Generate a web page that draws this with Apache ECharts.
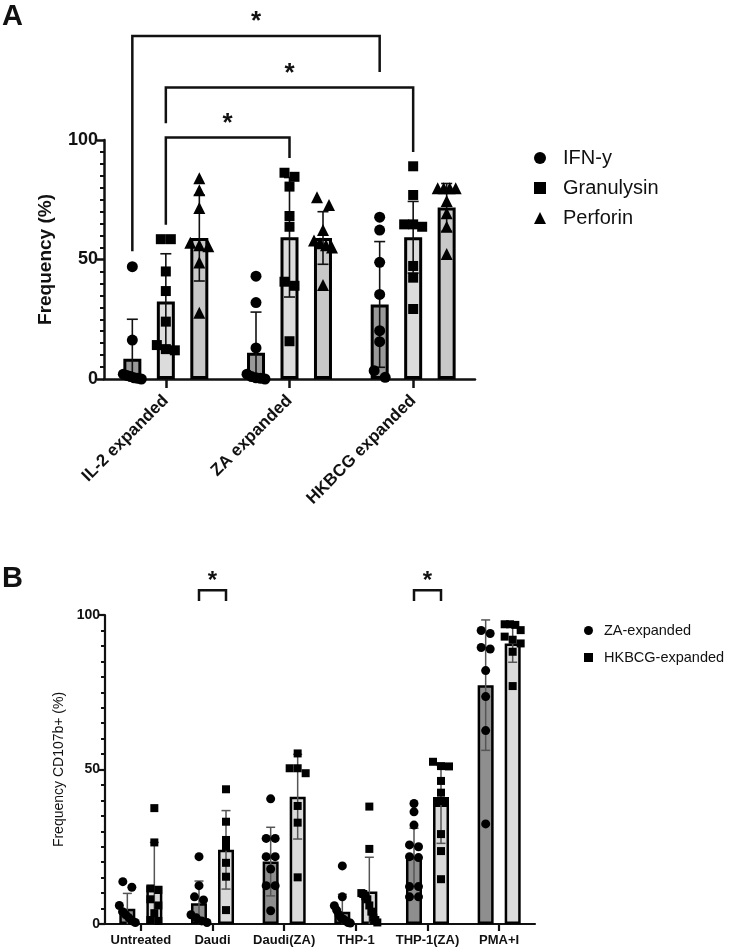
<!DOCTYPE html>
<html><head><meta charset="utf-8">
<script src="https://cdn.jsdelivr.net/npm/echarts@6/dist/echarts.min.js"></script>
<style>html,body{margin:0;padding:0;background:#fff}#c{width:731px;height:952px}</style>
</head><body><div id="c"></div>
<script>
// ---------- Panel A data ----------
const groupsA = ['IL-2 expanded', 'ZA expanded', 'HKBCG expanded'];
const markersA = ['IFN-y', 'Granulysin', 'Perforin'];
const meanIFN  = [8.5, 11, 31.2];
const meanGran = [32.4, 59.3, 59.3];
const meanPerf = [59, 59, 71.8];
const sdIFN  = [16.5, 17, 26.3];
const sdGran = [20, 25, 15];
const sdPerf = [18, 11, 10];
const ptsIFN = [
  [47, 16.3, 2, 1.5, 1, 0.5, 0.3, 0],
  [43, 32, 13, 2, 1, 0.5, 0.3, 0],
  [67.7, 62.3, 48.8, 35.4, 20.2, 15.6, 3.5, 0.7]
];
const ptsGran = [
  [58.5, 58.5, 45, 36.8, 24, 14.2, 12, 12.5],
  [86.3, 84.6, 80.5, 68.2, 63.7, 40.7, 39, 15.8],
  [89, 77, 64.7, 64.7, 63.7, 47.3, 42.4, 29.3]
];
const ptsPerf = [
  [84, 79, 71.5, 57, 56, 55.5, 48.7, 27.7],
  [76, 72.8, 62.3, 58, 56.8, 56, 55, 39.3],
  [79.8, 79.8, 79.8, 79.8, 74.5, 69.3, 63.7, 52.3]
];
const ticksA = [0, 50, 100];
// comparisons: [groupFrom, markerFrom, groupTo, markerTo, bracketTop, leftEnd, rightEnd, label]
const sigA = [
  [0, 0, 2, 0, 143.5, 53.5, 128.5, '*'],
  [0, 1, 2, 1, 122, 107, 95, '*'],
  [0, 1, 1, 1, 101, 64.5, 92.5, '*']
];

// ---------- Panel B data ----------
const groupsB = ['Untreated', 'Daudi', 'Daudi(ZA)', 'THP-1', 'THP-1(ZA)', 'PMA+I'];
const seriesB = ['ZA-expanded', 'HKBCG-expanded'];
const meanZA = [4.9, 6.7, 20.2, 4, 21.6, 77.3];
const meanHK = [12.4, 24, 41.2, 10.5, 38.7, 90.8];
const sdZA = [5, 7.2, 11.1, 5.6, 9.4, 21.1];
const sdHK = [14, 12.7, 13.7, 11.1, 12.6, 6.1];
const ptsZA = [
  [13.7, 11.9, 6, 4, 3, 2, 1, 0.5],
  [21.8, 12.4, 8.8, 7.8, 3, 2, 1, 0.5],
  [40.5, 27.7, 27.7, 21.8, 21.8, 17.8, 12.4, 12.4, 4.3],
  [18.8, 8.8, 5.9, 4.5, 3, 2, 1.5, 1, 0.5, 0.3],
  [39, 36.3, 32, 25.6, 25, 21.8, 21.5, 12.1, 12.1, 8.8, 8.8],
  [95, 94, 89.5, 89, 82, 73.6, 62.6, 32.4]
];
const ptsHK = [
  [37.5, 26.4, 11.5, 11, 8, 6, 3.5, 1.3, 1],
  [43.6, 33.1, 27.2, 25, 19.8, 15.3, 4.5],
  [55.2, 50.4, 50.4, 48.8, 38.2, 32.8, 15.1],
  [38, 24.3, 10, 9.7, 9, 8, 6, 4, 2, 1.3, 0.5],
  [52.5, 51.1, 51, 46.3, 42.5, 39.8, 39.8, 29.1, 23.6, 14.5],
  [97, 97, 96.8, 95.1, 93, 92, 90.8, 88.1, 77]
];
const ticksB = [0, 50, 100];
// [group, fromSeries, toSeries, bracketTop, ends, label]
const sigB = [
  [1, 0, 1, 108, 104.5, '*'],
  [4, 0, 1, 108, 104.5, '*']
];

// ---------- layout / style ----------
const FONT = 'Liberation Sans, Arial, sans-serif';
const gA = {left: 104, top: 140, width: 371, height: 239};
const gB = {left: 105, top: 615, width: 430, height: 309};
const bandA = gA.width / groupsA.length, bandB = gB.width / groupsB.length;
const pxA = gA.height / 100, pxB = gB.height / 100;
const offA = [-33.5 / bandA, 0, 33.5 / bandA];
const offB = [-13.5 / bandB, 13.5 / bandB];
const colA = ['#999999', '#dcdcdc', '#c8c8c8'];
const colB = ['#8e8e8e', '#dadada'];
const symA = [['circle', 11], ['rect', 10], ['triangle', 12]];
const symB = [['circle', 9], ['rect', 8]];

function spread(vals, pxPerUnit, symPx, maxHalf, band) {
  const idx = vals.map((v, i) => i).sort((a, b) => vals[b] - vals[a]);
  const off = new Array(vals.length).fill(0);
  let i = 0;
  while (i < idx.length) {
    let j = i + 1;
    while (j < idx.length && (vals[idx[j - 1]] - vals[idx[j]]) * pxPerUnit < symPx * 0.8) j++;
    const n = j - i;
    if (n > 1) {
      const step = Math.min(symPx, 2 * maxHalf / (n - 1));
      for (let k = 0; k < n; k++) off[idx[i + k]] = (k - (n - 1) / 2) * step / band;
    }
    i = j;
  }
  return off;
}
function scatterData(pts, off, pxu, sym, maxHalf, band) {
  const out = [];
  pts.forEach((vals, g) => {
    const o = spread(vals, pxu, sym, maxHalf, band);
    vals.forEach((v, k) => out.push([g + off + o[k], v]));
  });
  return out;
}
function errSeries(xi, yi, means, sds, off, color, cap, lw) {
  return {
    type: 'custom', xAxisIndex: xi, yAxisIndex: yi, z: 3, silent: true, clip: false,
    encode: {x: 0, y: 1},
    data: means.map((m, g) => [g + off, m, sds[g]]),
    renderItem(p, api) {
      const x = api.value(0), m = api.value(1), s = api.value(2);
      const t = api.coord([x, m + s]), b = api.coord([x, Math.max(0, m - s)]);
      const st = {stroke: color, lineWidth: lw};
      const ch = [
        {type: 'line', shape: {x1: t[0], y1: t[1], x2: b[0], y2: b[1]}, style: st},
        {type: 'line', shape: {x1: t[0] - cap / 2, y1: t[1], x2: t[0] + cap / 2, y2: t[1]}, style: st}
      ];
      if (m - s > 0) ch.push({type: 'line', shape: {x1: b[0] - cap / 2, y1: b[1], x2: b[0] + cap / 2, y2: b[1]}, style: st});
      return {type: 'group', children: ch};
    }
  };
}
function bracketSeries(xi, yi, data, lw, fs, starGap) {
  return {
    type: 'custom', xAxisIndex: xi, yAxisIndex: yi, z: 5, silent: true, clip: false,
    encode: {x: [0, 1], y: 2},
    data: data,
    renderItem(p, api) {
      const xl = api.value(0), xr = api.value(1), yt = api.value(2), yle = api.value(3), yre = api.value(4);
      const a = api.coord([xl, yle]), b = api.coord([xl, yt]), c = api.coord([xr, yt]), d = api.coord([xr, yre]);
      return {type: 'group', children: [
        {type: 'polyline', shape: {points: [a, b, c, d]}, style: {stroke: '#111', lineWidth: lw, fill: null}},
        {type: 'text', x: (b[0] + c[0]) / 2, y: b[1] - starGap,
         style: {text: data[p.dataIndex][5], font: 'bold ' + fs + 'px ' + FONT, fill: '#111', align: 'center', verticalAlign: 'middle'}}
      ]};
    }
  };
}

const meansA = [meanIFN, meanGran, meanPerf], sdsA = [sdIFN, sdGran, sdPerf], ptsA = [ptsIFN, ptsGran, ptsPerf];
const meansB = [meanZA, meanHK], sdsB = [sdZA, sdHK], ptsB = [ptsZA, ptsHK];

const series = [];
markersA.forEach((name, s) => {
  series.push({type: 'bar', name: name + ' bar', xAxisIndex: 0, yAxisIndex: 0, data: meansA[s],
    barWidth: 18, barGap: '86%', z: 2, silent: true,
    itemStyle: {color: colA[s], borderColor: '#000', borderWidth: 3}});
});
markersA.forEach((name, s) => {
  series.push(errSeries(1, 0, meansA[s], sdsA[s], offA[s], '#111', 11, 1.6));
  series.push({type: 'scatter', name: name, xAxisIndex: 1, yAxisIndex: 0, z: 4, clip: false, silent: true,
    symbol: symA[s][0], symbolSize: symA[s][1], itemStyle: {color: '#000', opacity: 1},
    data: scatterData(ptsA[s], offA[s], pxA, symA[s][1], 9, bandA)});
});
series.push(bracketSeries(1, 0, sigA.map(r => [r[0] + offA[r[1]], r[2] + offA[r[3]], r[4], r[5], r[6], r[7]]), 2.5, 26, 14));

seriesB.forEach((name, s) => {
  series.push({type: 'bar', name: name + ' bar', xAxisIndex: 2, yAxisIndex: 1, data: meansB[s],
    barWidth: 16, barGap: '69%', z: 2, silent: true,
    itemStyle: {color: colB[s], borderColor: '#000', borderWidth: 2.5}});
});
seriesB.forEach((name, s) => {
  series.push(errSeries(3, 1, meansB[s], sdsB[s], offB[s], '#555', 9, 1.5));
  series.push({type: 'scatter', name: name, xAxisIndex: 3, yAxisIndex: 1, z: 4, clip: false, silent: true,
    symbol: symB[s][0], symbolSize: symB[s][1], itemStyle: {color: '#000', opacity: 1},
    data: scatterData(ptsB[s], offB[s], pxB, symB[s][1], 8, bandB)});
});
series.push(bracketSeries(3, 1, sigB.map(r => [r[0] + offB[r[1]], r[0] + offB[r[2]], r[3], r[4], r[4], r[5]]), 2.5, 24, 9));

const axisLine = w => ({show: true, onZero: false, lineStyle: {color: '#111', width: w}});
const option = {
  animation: false,
  backgroundColor: '#fff',
  grid: [
    Object.assign({containLabel: false, outerBoundsMode: 'none'}, gA),
    Object.assign({containLabel: false, outerBoundsMode: 'none'}, gB)
  ],
  xAxis: [
    {type: 'category', gridIndex: 0, data: groupsA, axisLine: axisLine(2.5),
     axisTick: {show: true, alignWithLabel: true, length: 9, lineStyle: {color: '#111', width: 2.5}},
     axisLabel: {rotate: 45, margin: 19, fontSize: 17, fontWeight: 'bold', fontFamily: FONT, color: '#111'},
     splitLine: {show: false}},
    {type: 'value', gridIndex: 0, min: -0.5, max: 2.5, show: false},
    {type: 'category', gridIndex: 1, data: groupsB, axisLine: axisLine(2.2),
     axisTick: {show: true, alignWithLabel: true, length: 7, lineStyle: {color: '#111', width: 2.2}},
     axisLabel: {margin: 10, fontSize: 13, fontWeight: 'bold', fontFamily: FONT, color: '#111', interval: 0},
     splitLine: {show: false}},
    {type: 'value', gridIndex: 1, min: -0.5, max: 5.5, show: false}
  ],
  yAxis: [
    {type: 'value', gridIndex: 0, min: ticksA[0], max: ticksA[2], interval: ticksA[1] - ticksA[0],
     name: 'Frequency (%)', nameLocation: 'middle', nameGap: 49,
     nameTextStyle: {fontSize: 19, fontWeight: 'bold', fontFamily: FONT, color: '#111'},
     axisLine: axisLine(2.5),
     axisTick: {show: true, length: 7, lineStyle: {color: '#111', width: 2.5}},
     minorTick: {show: true, splitNumber: 10, length: 4, lineStyle: {color: '#111', width: 2}},
     axisLabel: {margin: 6, fontSize: 18, fontWeight: 'bold', fontFamily: FONT, color: '#111'},
     splitLine: {show: false}, minorSplitLine: {show: false}},
    {type: 'value', gridIndex: 1, min: ticksB[0], max: ticksB[2], interval: ticksB[1] - ticksB[0],
     name: 'Frequency CD107b+ (%)', nameLocation: 'middle', nameGap: 37,
     nameTextStyle: {fontSize: 14, fontFamily: FONT, color: '#111'},
     axisLine: axisLine(2.2),
     axisTick: {show: true, length: 7, lineStyle: {color: '#111', width: 2.2}},
     minorTick: {show: true, splitNumber: 10, length: 4, lineStyle: {color: '#111', width: 2}},
     axisLabel: {margin: 5, fontSize: 14, fontWeight: 'bold', fontFamily: FONT, color: '#111'},
     splitLine: {show: false}, minorSplitLine: {show: false}}
  ],
  legend: [
    {data: [{name: 'IFN-y', icon: 'circle'}, {name: 'Granulysin', icon: 'rect'}, {name: 'Perforin', icon: 'triangle'}],
     orient: 'vertical', left: 529, top: 143, itemWidth: 12, itemHeight: 12, itemGap: 10, selectedMode: false,
     textStyle: {fontSize: 20, fontFamily: FONT, color: '#111', padding: [0, 0, 0, 12]}},
    {data: [{name: 'ZA-expanded', icon: 'circle'}, {name: 'HKBCG-expanded', icon: 'rect'}],
     orient: 'vertical', left: 579, top: 618, itemWidth: 9, itemHeight: 9, itemGap: 12, selectedMode: false,
     textStyle: {fontSize: 14.5, fontFamily: FONT, color: '#111', padding: [0, 0, 0, 6]}}
  ],
  graphic: [
    {type: 'text', left: 2, top: 2, style: {text: 'A', font: 'bold 29px ' + FONT, fill: '#111'}},
    {type: 'text', left: 2, top: 564, style: {text: 'B', font: 'bold 29px ' + FONT, fill: '#111'}}
  ],
  series: series
};
const chart = echarts.init(document.getElementById('c'), null, {renderer: 'canvas'});
chart.setOption(option);
</script>
</body></html>
